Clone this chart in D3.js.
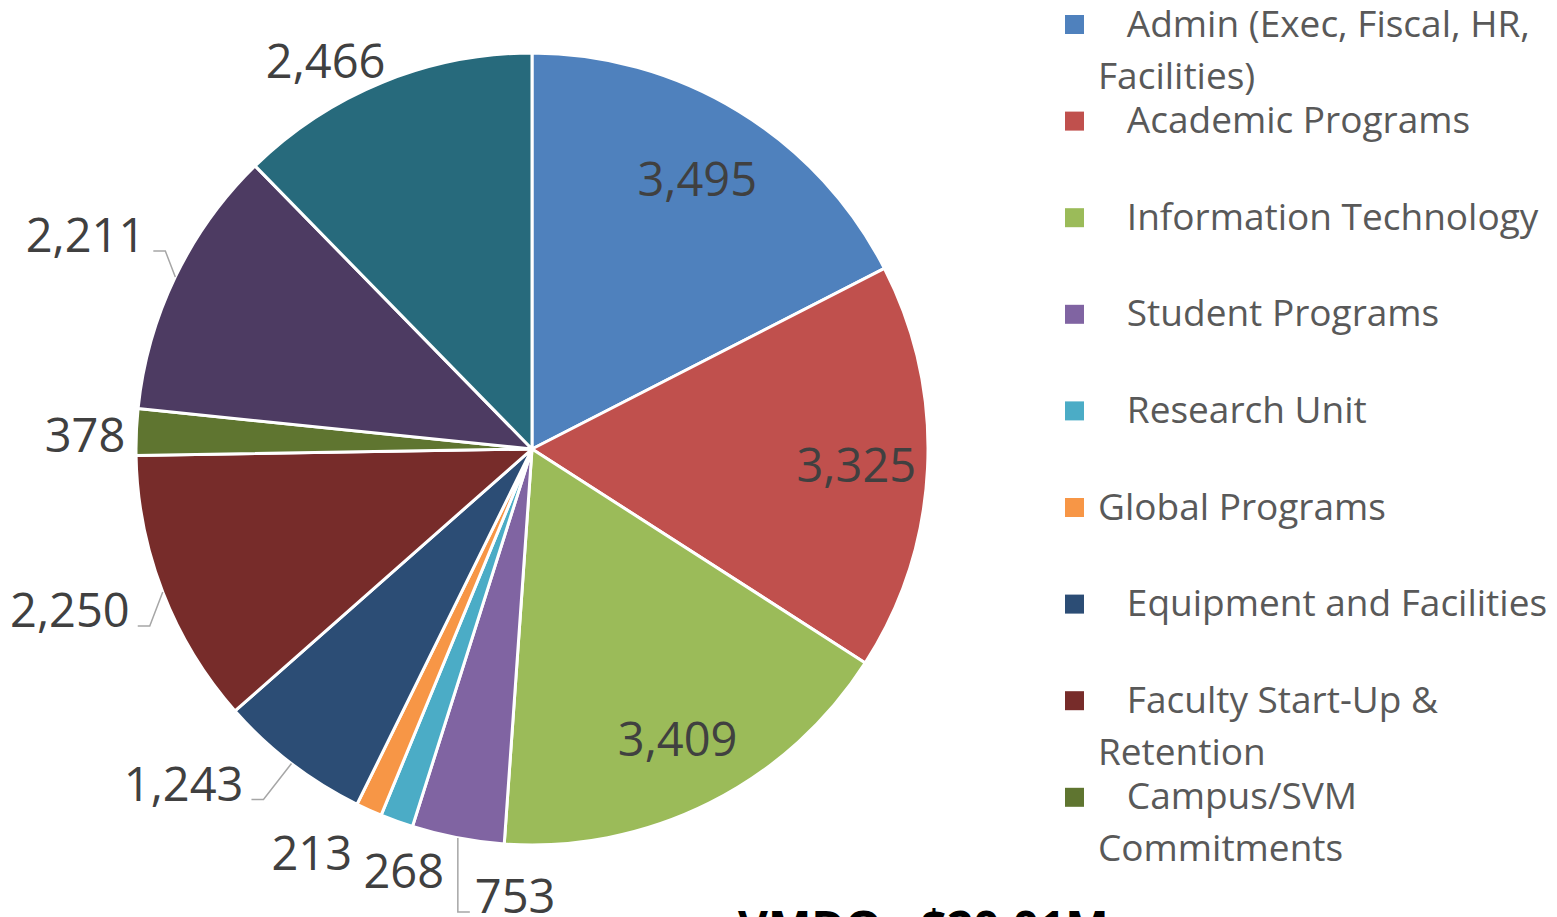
<!DOCTYPE html>
<html>
<head>
<meta charset="utf-8">
<script src="https://cdn.jsdelivr.net/npm/d3@7/dist/d3.min.js"></script>
<style>
  html, body { margin: 0; padding: 0; background: #fff; overflow: hidden; }
  svg { display: block; }
  text { font-family: "Open Sans", "Noto Sans", sans-serif; }
</style>
</head>
<body>
<svg id="chart" width="1557" height="917"></svg>
<script>
// ---- data ----
const categories = [
  "   Admin (Exec, Fiscal, HR,\nFacilities)",
  "   Academic Programs",
  "   Information Technology",
  "   Student Programs",
  "   Research Unit",
  "Global Programs",
  "   Equipment and Facilities",
  "   Faculty Start-Up &\nRetention",
  "   Campus/SVM\nCommitments",
  "",   // legend entry not visible (legend truncated)
  ""    // legend entry not visible (legend truncated)
];
const values = [3495, 3325, 3409, 753, 268, 213, 1243, 2250, 378, 2211, 2466];
const colors = ["#4F81BD", "#C0504D", "#9BBB59", "#8064A2", "#4BACC6", "#F79646",
                "#2C4D75", "#772C2A", "#5F7530", "#4D3B62", "#276A7C"];
const bottomTitle = "VMDO - $20.01M";

// ---- layout ----
const cx = 532, cy = 449, R = 396;
const legendVisible = 9;
const labelLayout = [
  {mode: "in", r: 0.80}, {mode: "in", r: 0.82}, {mode: "in", r: 0.82},
  {mode: "out", anchor: "start", dx: 17, dy: 75, leader: true},
  {mode: "out", anchor: "middle", dx: 7, dy: 67},
  {mode: "out", anchor: "end", dx: -17, dy: 60},
  {mode: "out", anchor: "end", dx: -48, dy: 37, leader: true},
  {mode: "out", anchor: "end", dx: -33, dy: 35, leader: true},
  {mode: "out", anchor: "end", dx: -11, dy: 20},
  {mode: "out", anchor: "end", dx: -30, dy: -25, leader: true},
  {mode: "out", anchor: "end", dx: 3, dy: -4}
];

const svg = d3.select("#chart");
const fmt = d3.format(",");
const data = values.map((v, i) => ({name: categories[i], value: v, color: colors[i], i}));

const pie = d3.pie().sort(null).value(d => d.value).startAngle(0).endAngle(2 * Math.PI);
const arcs = pie(data);
const arc = d3.arc().innerRadius(0).outerRadius(R);

const g = svg.append("g").attr("transform", `translate(${cx},${cy})`);
g.selectAll("path.slice").data(arcs).enter().append("path")
  .attr("class", "slice")
  .attr("d", arc)
  .attr("fill", d => d.data.color)
  .attr("stroke", "#fff")
  .attr("stroke-width", 3)
  .attr("stroke-linejoin", "round");

const labelSize = 47;
const labelG = g.append("g");
arcs.forEach((a, i) => {
  const L = labelLayout[i];
  const mid = (a.startAngle + a.endAngle) / 2;
  const txt = fmt(a.data.value);
  if (L.mode === "in") {
    const r = R * L.r;
    const x = Math.sin(mid) * r, y = -Math.cos(mid) * r;
    labelG.append("text")
      .attr("x", x).attr("y", y + labelSize * 0.36)
      .attr("text-anchor", "middle")
      .attr("font-size", labelSize)
      .attr("fill", "#404040")
      .text(txt);
  } else {
    const ex = Math.sin(mid) * R, ey = -Math.cos(mid) * R;
    const tx = ex + L.dx, ty = ey + L.dy;
    const t = labelG.append("text")
      .attr("x", tx).attr("y", ty)
      .attr("text-anchor", L.anchor)
      .attr("font-size", labelSize)
      .attr("fill", "#404040")
      .text(txt);
    if (L.leader) {
      const bb = t.node().getBBox();
      let pts;
      const ly = ty - 1;
      if (L.anchor === "end") {
        const sx = bb.x + bb.width + 8;
        pts = [[sx, ly], [sx + 12, ly], [ex, ey]];
      } else {
        const sx = bb.x - 5;
        pts = [[sx, ly], [sx - 12, ly], [ex, ey]];
      }
      labelG.append("path")
        .attr("d", d3.line()(pts))
        .attr("fill", "none")
        .attr("stroke", "#A6A6A6")
        .attr("stroke-width", 1.5);
    }
  }
});

// ---- legend ----
const legendX = 1065, legendTop = 24.5, legendStep = 96.6, legendFont = 37, lineH = 52;
const lg = svg.append("g");
data.slice(0, legendVisible).forEach((d, i) => {
  const yc = legendTop + i * legendStep;
  lg.append("rect")
    .attr("x", legendX).attr("y", yc - 9.5)
    .attr("width", 19).attr("height", 19)
    .attr("fill", d.color);
  const lines = d.name.split("\n");
  const t = lg.append("text")
    .attr("font-size", legendFont)
    .attr("fill", "#595959")
    .style("white-space", "pre")
    .attr("xml:space", "preserve");
  lines.forEach((ln, k) => {
    t.append("tspan")
      .attr("x", legendX + 33)
      .attr("y", yc + 12 + k * lineH)
      .text(ln);
  });
});

// ---- bottom title (partly cut off) ----
svg.append("text")
  .attr("x", 738).attr("y", 944)
  .attr("font-size", 46)
  .attr("font-weight", "bold")
  .attr("fill", "#000")
  .text(bottomTitle);
</script>
</body>
</html>
